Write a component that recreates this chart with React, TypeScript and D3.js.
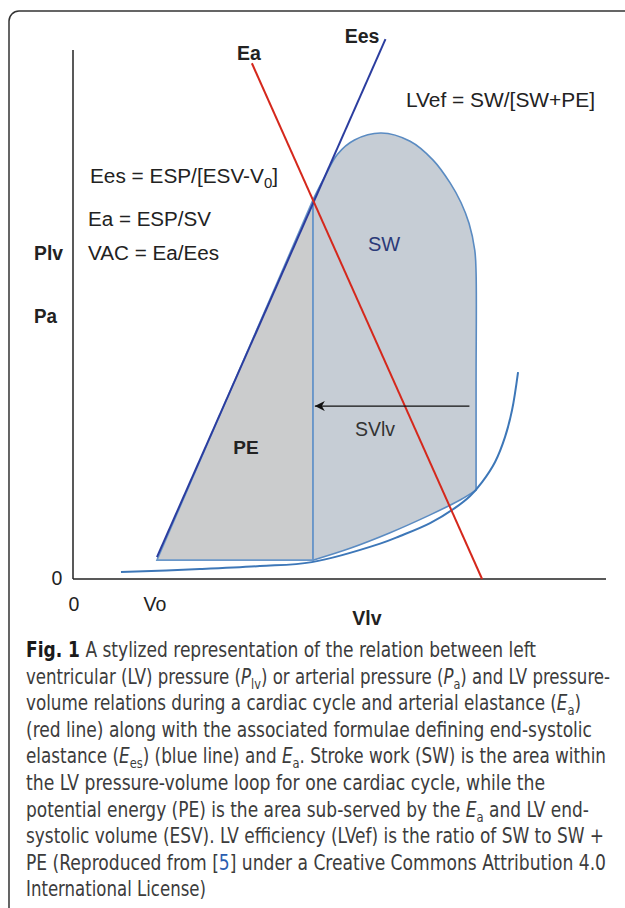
import * as d3 from 'd3'

// volume (ml-ish) and pressure (mmHg-ish) units
const v0 = 25.2
const esv = 72
const ejection: [number, number][] = [
  [121, 26.9], [121, 60], [121, 92.6], [120.6, 99.5], [118.9, 107.5], [116.5, 113.8], [113.2, 119.8], [108.1, 126.7],
  [101.2, 132.4], [92.5, 134.9], [84.5, 132.8], [79.4, 128.5], [76.0, 122.5], [72, 114.6],
]
const filling: [number, number][] = [
  [72, 5.7], [83.2, 9.3], [95.2, 14.0], [107.2, 19.4], [116.2, 23.9], [121, 26.9],
]
const edpvr: [number, number][] = [
  [14.4, 2.1], [38.1, 3.0], [56.1, 3.9], [71.7, 5.1], [92.2, 10.7], [98.2, 13.0], [107.2, 16.9],
  [114.7, 21.5], [119.2, 25.1], [122.8, 29.3], [126.7, 35.4], [129.7, 43.0], [131.8, 51.1], [133.6, 62.6],
]
const peTriangle: [number, number][] = [[v0, 5.7], [esv, 114.6], [esv, 5.7]]
const eesLine: [number, number][] = [[v0, 6.6], [93.8, 163.3]]
const eaLine: [number, number][] = [[53.7, 156], [122.8, 0]]
const arrowV = [119, 72.6]
const arrowP = 52.3

const captionLines = [
  [{ t: 'Fig. 1', b: true }, { t: ' A stylized representation of the relation between left' }],
  [{ t: 'ventricular (LV) pressure (' }, { t: 'P', i: true }, { t: 'lv', s: true }, { t: ') or arterial pressure (' }, { t: 'P', i: true }, { t: 'a', s: true }, { t: ') and LV pressure-' }],
  [{ t: 'volume relations during a cardiac cycle and arterial elastance (' }, { t: 'E', i: true }, { t: 'a', s: true }, { t: ')' }],
  [{ t: '(red line) along with the associated formulae defining end-systolic' }],
  [{ t: 'elastance (' }, { t: 'E', i: true }, { t: 'es', s: true }, { t: ') (blue line) and ' }, { t: 'E', i: true }, { t: 'a', s: true }, { t: '. Stroke work (SW) is the area within' }],
  [{ t: 'the LV pressure-volume loop for one cardiac cycle, while the' }],
  [{ t: 'potential energy (PE) is the area sub-served by the ' }, { t: 'E', i: true }, { t: 'a', s: true }, { t: ' and LV end-' }],
  [{ t: 'systolic volume (ESV). LV efficiency (LVef) is the ratio of SW to SW +' }],
  [{ t: 'PE (Reproduced from [' }, { t: '5', l: true }, { t: '] under a Creative Commons Attribution 4.0' }],
  [{ t: 'International License)' }],
]
const captionEnds = [536, 610, 581, 592, 606, 545, 589, 604, 606, 206]

type Seg = { t: string; b?: boolean; i?: boolean; s?: boolean; l?: boolean }

export default function App() {
  const x = d3.scaleLinear().domain([0, 160]).range([73, 606])
  const y = d3.scaleLinear().domain([0, 160]).range([579, 50])
  const line = d3.line<[number, number]>().x(d => x(d[0])).y(d => y(d[1]))
  const smooth = d3.line<[number, number]>().x(d => x(d[0])).y(d => y(d[1])).curve(d3.curveCatmullRom.alpha(0.5))

  const loopPath = smooth(ejection) + 'L' + x(esv) + ',' + y(5.7) + smooth(filling)!.replace(/^M/, 'L') + 'Z'

  const chartFont = '"Liberation Sans", Arial, sans-serif'
  const capFont = '"Liberation Sans Narrow", "DejaVu Sans Condensed", "Open Sans", sans-serif'

  const renderSegs = (segs: Seg[]) => {
    const out: any[] = []
    let sub = false
    segs.forEach((sg, k) => {
      if (sg.s) {
        out.push(<tspan key={k} fontSize={14} dy={5}>{sg.t}</tspan>)
        sub = true
      } else {
        const dy = sub ? -5 : undefined
        sub = false
        out.push(
          <tspan key={k} dy={dy} fontWeight={sg.b ? 'bold' : undefined} fontStyle={sg.i ? 'italic' : undefined}
            fill={sg.b ? '#1a1a1a' : sg.l ? '#2a5db0' : undefined}>{sg.t}</tspan>
        )
      }
    })
    return out
  }

  return (
    <svg width={625} height={908} style={{ position: 'absolute', left: 0, top: 0, display: 'block' }}>
      <defs>
        <marker id="ah" viewBox="0 0 10 10" refX={10} refY={5} markerWidth={12} markerHeight={10}
          markerUnits="userSpaceOnUse" orient="auto">
          <path d="M10,5 L0,0 L3,5 L0,10 Z" fill="#111" />
        </marker>
      </defs>
      <rect x={9} y={11} width={660} height={940} rx={10} fill="none" stroke="#333" strokeWidth={1.5} />

      {/* potential energy */}
      <path d={line(peTriangle) + 'Z'} fill="#cbcccd" stroke="none" />
      {/* PV loop */}
      <path d={loopPath} fill="#c6cdd5" stroke="#5a8bc2" strokeWidth={1.6} />
      <path d={line(peTriangle) + 'Z'} fill="none" stroke="#6a97c9" strokeWidth={1.6} />
      <path d={smooth(edpvr)!} fill="none" stroke="#3d77b8" strokeWidth={2} />

      {/* axes */}
      <line x1={x(0)} x2={x(0)} y1={50} y2={y(0)} stroke="#222" strokeWidth={1.5} />
      <line x1={x(0)} x2={606} y1={y(0)} y2={y(0)} stroke="#222" strokeWidth={1.5} />

      <path d={line(eesLine)!} stroke="#2b3d9f" strokeWidth={2} fill="none" />
      <path d={line(eaLine)!} stroke="#d5281c" strokeWidth={2} fill="none" />

      <line x1={x(arrowV[0])} x2={x(arrowV[1])} y1={y(arrowP)} y2={y(arrowP)} stroke="#111" strokeWidth={1.3}
        markerEnd="url(#ah)" />

      <g fontFamily={chartFont} fill="#222" fontSize={19.5}>
        <text x={249} y={60} textAnchor="middle" fontWeight="bold">Ea</text>
        <text x={362} y={43} textAnchor="middle" fontWeight="bold">Ees</text>
        <text x={406} y={107} textLength={189} lengthAdjust="spacingAndGlyphs">LVef = SW/[SW+PE]</text>
        <text x={90} y={183} textLength={188} lengthAdjust="spacingAndGlyphs">
          Ees = ESP/[ESV-V<tspan fontSize={14} dy={5}>0</tspan><tspan dy={-5}>]</tspan>
        </text>
        <text x={88} y={226} textLength={123} lengthAdjust="spacingAndGlyphs">Ea = ESP/SV</text>
        <text x={88} y={260} textLength={131} lengthAdjust="spacingAndGlyphs">VAC = Ea/Ees</text>
        <text x={34} y={260} fontWeight="bold" textLength={29} lengthAdjust="spacingAndGlyphs">Plv</text>
        <text x={34} y={323} fontWeight="bold" textLength={23} lengthAdjust="spacingAndGlyphs">Pa</text>
        <text x={384} y={251} textAnchor="middle" fill="#2b3a78" fontSize={20}>SW</text>
        <text x={246} y={454} textAnchor="middle" fontWeight="bold" fontSize={19}>PE</text>
        <text x={375} y={436} textAnchor="middle" fill="#333">SVlv</text>
        <text x={57} y={585} textAnchor="middle">0</text>
        <text x={x(0) + 1} y={611} textAnchor="middle">0</text>
        <text x={x(v0) - 2} y={611} textAnchor="middle">Vo</text>
        <text x={367} y={625} textAnchor="middle" fontWeight="bold">Vlv</text>
      </g>

      <g fontFamily={capFont} fontSize={20.5} fill="#3c3c3c">
        {captionLines.map((segs, i) => (
          <text key={i} x={26} y={657 + i * 26.6} textLength={captionEnds[i] - 26} lengthAdjust="spacingAndGlyphs">
            {renderSegs(segs as Seg[])}
          </text>
        ))}
      </g>
    </svg>
  )
}
